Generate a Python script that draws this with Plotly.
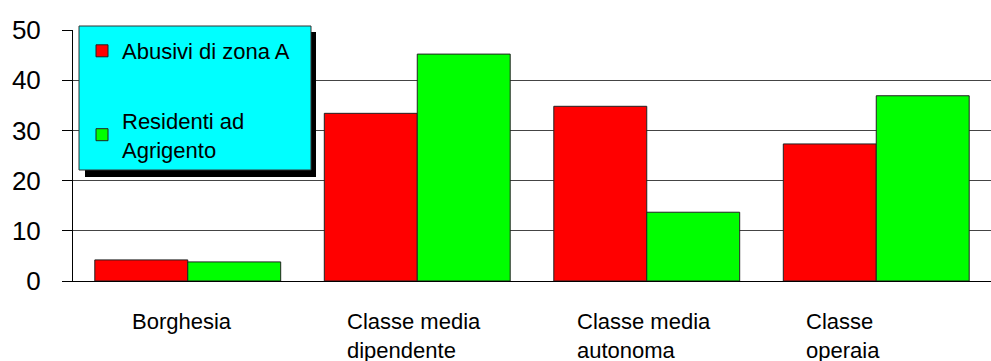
import plotly.graph_objects as go

categories = ["Borghesia", "Classe media dipendente", "Classe media autonoma", "Classe operaia"]
category_labels = ["Borghesia", "Classe media<br>dipendente", "Classe media<br>autonoma", "Classe<br>operaia"]
series_names = ["Abusivi di zona A", "Residenti ad<br>Agrigento"]
abusivi = [4.2, 33.4, 34.8, 27.3]
residenti = [3.8, 45.2, 13.7, 36.9]
y_ticks = [0, 10, 20, 30, 40, 50]

W, H = 991, 361
L, R, T, B = 73, 0, 30, 80
FONT = "Liberation Sans, Arial, sans-serif"

fig = go.Figure()
fig.add_trace(go.Bar(x=categories, y=abusivi, name=series_names[0],
                     marker=dict(color="#FF0000", line=dict(color="#222222", width=1)),
                     legendgroup="a"))
fig.add_trace(go.Bar(x=categories, y=residenti, name=series_names[1],
                     marker=dict(color="#00FF00", line=dict(color="#222222", width=1)),
                     legendgroup="b"))

pw = W - L - R
ph = H - T - B

def px2x(px):
    return (px - L) / pw

def py2y(py):
    return (H - B - py) / ph

shapes = [
    dict(type="rect", xref="paper", yref="paper",
         x0=px2x(85), x1=px2x(316), y0=py2y(177), y1=py2y(32),
         fillcolor="#000000", line=dict(width=0), layer="above"),
    dict(type="rect", xref="paper", yref="paper",
         x0=px2x(79), x1=px2x(311), y0=py2y(170), y1=py2y(26),
         fillcolor="#00FFFF", line=dict(color="#333333", width=1), layer="above"),
]

annotations = []
for cat, lab in zip(categories, category_labels):
    multi = "<br>" in lab
    annotations.append(dict(x=cat, y=0, xref="x", yref="paper", text=lab,
                            showarrow=False,
                            xanchor="left" if multi else "center",
                            xshift=-72 if multi else -6,
                            yanchor="top", align="left", yshift=-26,
                            font=dict(family=FONT, size=22, color="#000000")))

fig.update_layout(
    width=W, height=H,
    margin=dict(l=L, r=R, t=T, b=B, pad=0, autoexpand=False),
    paper_bgcolor="#FFFFFF", plot_bgcolor="#FFFFFF",
    barmode="group", bargap=0.19, bargroupgap=0,
    font=dict(family=FONT, color="#000000"),
    shapes=shapes,
    annotations=annotations,
    showlegend=True,
    legend=dict(x=px2x(82), y=min(py2y(27), 1.0), xanchor="left", yanchor="top",
                bgcolor="rgba(0,0,0,0)", borderwidth=0,
                traceorder="grouped", tracegroupgap=38,
                font=dict(family=FONT, size=22, color="#000000")),
    xaxis=dict(showticklabels=False, showline=True, linecolor="#000000", linewidth=1,
               ticks="", showgrid=False, zeroline=False),
    yaxis=dict(range=[0, 50], tickvals=y_ticks, showline=True, linecolor="#000000",
               linewidth=1, ticks="outside", ticklen=10, tickcolor="#000000",
               ticklabelstandoff=16,
               showgrid=True, gridcolor="#444444", gridwidth=1, zeroline=False,
               tickfont=dict(family=FONT, size=26, color="#000000")),
)

fig.write_html("out.html")
